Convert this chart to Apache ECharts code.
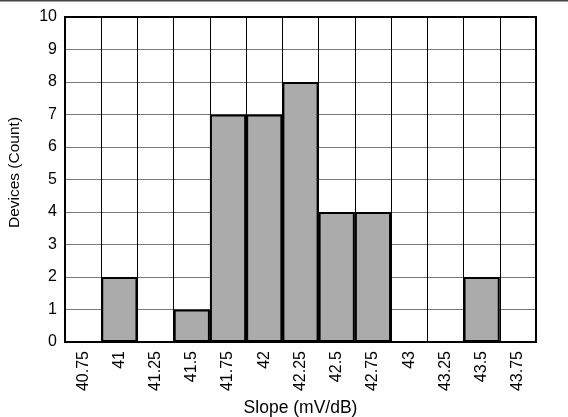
<!DOCTYPE html>
<html>
<head>
<meta charset="utf-8">
<script src="https://cdn.jsdelivr.net/npm/echarts@6/dist/echarts.min.js"></script>
<style>
  html, body { margin: 0; padding: 0; background: #fff; }
  #chart { width: 568px; height: 417px; }
</style>
</head>
<body>
<div id="chart"></div>
<script>
// Histogram of slope measurements
const slopeBins = ['40.75', '41', '41.25', '41.5', '41.75', '42', '42.25', '42.5', '42.75', '43', '43.25', '43.5', '43.75'];
const deviceCounts = [0, 2, 0, 1, 7, 7, 8, 4, 4, 0, 0, 2, 0];
const countTicks = [0, 1, 2, 3, 4, 5, 6, 7, 8, 9, 10];

const FONT = 'Liberation Sans, Arial, sans-serif';
const chart = echarts.init(document.getElementById('chart'), null, { renderer: 'canvas' });

chart.setOption({
  animation: false,
  backgroundColor: '#fff',
  grid: { left: 65, right: 32, top: 17, bottom: 75, containLabel: false, outerBoundsMode: 'none' },
  xAxis: {
    type: 'category',
    data: slopeBins,
    boundaryGap: true,
    name: 'Slope (mV/dB)',
    nameLocation: 'middle',
    nameGap: 55,
    nameTextStyle: { fontFamily: FONT, fontSize: 17.5, color: '#000' },
    axisLine: { show: true, lineStyle: { color: '#000', width: 2 } },
    axisTick: { show: false },
    axisLabel: { rotate: 90, fontFamily: FONT, fontSize: 16, color: '#000', margin: 9, interval: 0 },
    splitLine: { show: true, lineStyle: { color: '#000', width: 1 } }
  },
  yAxis: {
    type: 'value',
    min: countTicks[0],
    max: countTicks[countTicks.length - 1],
    interval: 1,
    name: 'Devices (Count)',
    nameLocation: 'middle',
    nameGap: 42,
    nameRotate: 90,
    nameTextStyle: { fontFamily: FONT, fontSize: 15.5, color: '#000', padding: [0, 0, 0, 14] },
    axisLine: { show: true, lineStyle: { color: '#000', width: 2 } },
    axisTick: { show: false },
    axisLabel: { fontFamily: FONT, fontSize: 16, color: '#000', margin: 8 },
    splitLine: { show: true, lineStyle: { color: '#7a7a7a', width: 1 } }
  },
  series: [{
    type: 'bar',
    data: deviceCounts,
    barWidth: '100%',
    barCategoryGap: 0,
    itemStyle: { color: '#ababab', borderColor: '#000', borderWidth: 2 }
  }]
});

// Page rule along the top edge and the frame around the plot area
const gridRect = chart.getModel().getComponent('grid').coordinateSystem.getRect();
chart.setOption({
  graphic: [{
    type: 'line',
    shape: { x1: 0, y1: 0.5, x2: 568, y2: 0.5 },
    style: { stroke: '#444', lineWidth: 2 }
  }, {
    type: 'rect',
    shape: { x: gridRect.x, y: gridRect.y, width: gridRect.width, height: gridRect.height },
    style: { fill: 'none', stroke: '#000', lineWidth: 2 },
    z: 10
  }]
});
</script>
</body>
</html>
